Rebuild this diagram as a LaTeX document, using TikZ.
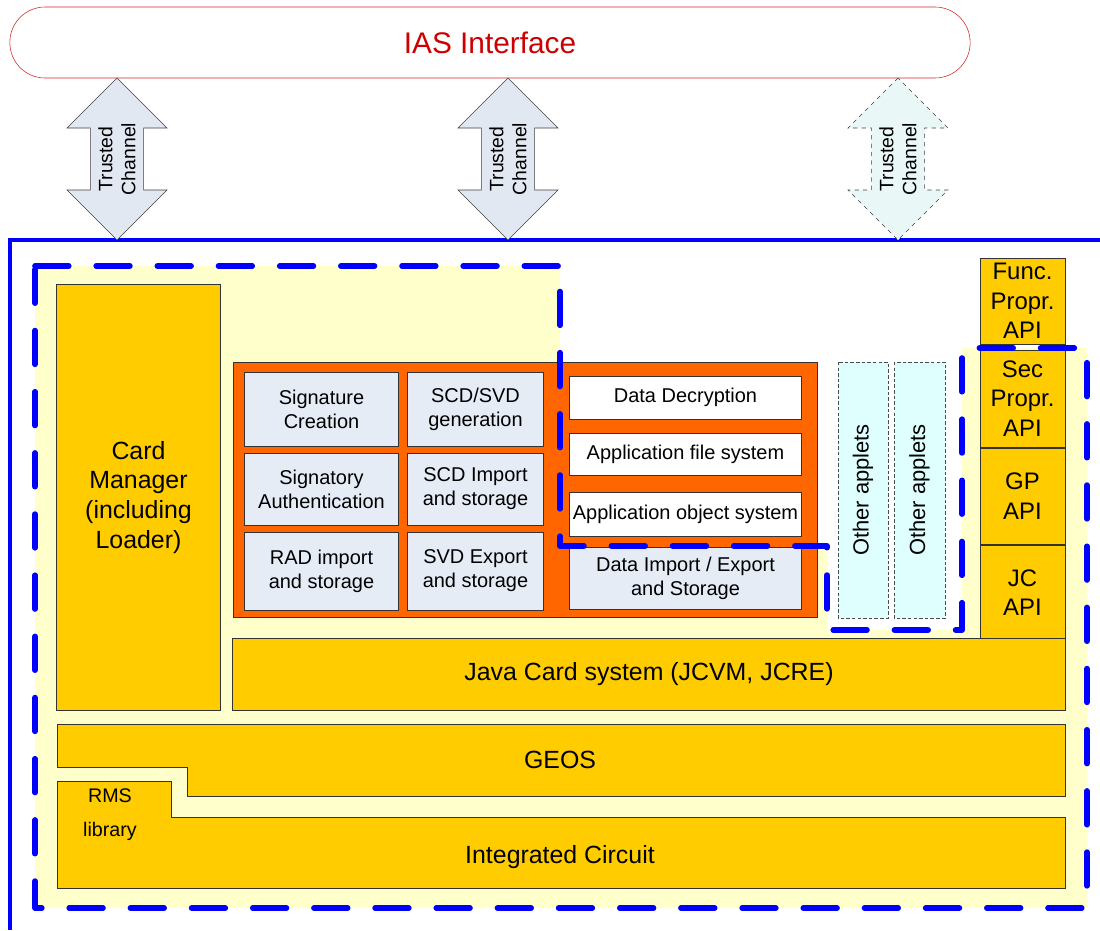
\documentclass[tikz,border=0pt]{standalone}
\usepackage{fontspec}
\setmainfont{Liberation Sans}
\usepackage{xcolor}
\usepackage{tikz}
\usetikzlibrary{positioning,shapes.arrows}

\definecolor{iasred}{HTML}{CC0000}
\definecolor{cardgold}{HTML}{FFCC00}
\definecolor{appletorange}{HTML}{FF6600}
\definecolor{cellblue}{HTML}{E6ECF6}
\definecolor{paleyellow}{HTML}{FFFFCC}
\definecolor{appletcyan}{HTML}{DFFFFF}
\definecolor{arrowblue}{HTML}{E2E8F2}
\definecolor{arrowcyan}{HTML}{EAF7F7}

\tikzset{
  goldbox/.style={draw=black!80, fill=cardgold, line width=0.7pt, inner sep=0pt, align=center,
    font=\fontsize{17.7}{21.3}\selectfont},
  apibox/.style={goldbox, minimum width=2.125cm, font=\fontsize{17}{21}\selectfont},
  cellbox/.style={draw=black!80, fill=cellblue, line width=0.7pt, inner sep=0pt, align=center,
    font=\fontsize{14.2}{17}\selectfont},
  appletbox/.style={draw=black!70, fill=appletcyan, dash pattern=on 2.5pt off 1.5pt, rotate=90,
    minimum width=6.4cm, inner sep=0pt, font=\fontsize{15.6}{18}\selectfont},
  tcarrow/.style={double arrow, draw=black!75, fill=arrowblue, rotate=90, minimum height=4.05cm,
    minimum width=2.5cm, double arrow head extend=0.54cm, inner xsep=0pt, inner ysep=4pt,
    align=center, font=\fontsize{13.8}{16.4}\selectfont},
  toeline/.style={draw=blue, line width=4pt, line cap=round, line join=round,
    dash pattern=on 24pt off 19.5pt}
}

\begin{document}
\begin{tikzpicture}[x=0.025cm, y=-0.025cm]
\useasboundingbox (0,0) rectangle (1100,930);

% platform frame and TOE area
\draw[blue, line width=2.4pt] (1100,240) -| (10,930);
\fill[paleyellow] (35,266) -- (560,266) -- (560,546) -- (827,546) -- (827,630) -- (962,630)
  -- (962,348) -- (1087,348) -- (1087,908) -- (35,908) -- cycle;

\node (ias) [draw=iasred!85, text=iasred, rounded corners=0.88cm, minimum width=24cm,
  minimum height=1.775cm, font=\fontsize{21.2}{24}\selectfont] at (490,42.5) {IAS Interface};

\node (tc1) [tcarrow] at (117,159) {Trusted\\Channel};
\node (tc2) [tcarrow] at (508,159) {Trusted\\Channel};
\node (tc3) [tcarrow, fill=arrowcyan, dashed] at (898,159) {Trusted\\Channel};

\node (cm) [goldbox, minimum width=4.075cm, minimum height=10.625cm] at (138.5,497.5)
  {Card\\Manager\\(including\\Loader)};

% signature application
\node (sig) [draw=black!80, fill=appletorange, line width=0.7pt, minimum width=14.575cm,
  minimum height=6.375cm] at (525.5,490) {};
\node (sc) [cellbox, minimum width=3.825cm, minimum height=1.85cm] at (321.5,409) {Signature\\Creation};
\node (gen) [cellbox, minimum width=3.375cm, minimum height=1.85cm] at (475.5,409) {SCD/SVD\\generation};
\node (sa) [cellbox, minimum width=3.825cm, minimum height=1.8cm] at (321.5,489) {Signatory\\Authentication};
\node (scdi) [cellbox, minimum width=3.375cm, minimum height=1.8cm] at (475.5,489) {SCD Import\\and storage};
\node (rad) [cellbox, minimum width=3.825cm, minimum height=1.95cm] at (321.5,571) {RAD import\\and storage};
\node (svde) [cellbox, minimum width=3.375cm, minimum height=1.95cm] at (475.5,571) {SVD Export\\and storage};
\node (dd) [cellbox, fill=white, minimum width=5.775cm, minimum height=1.075cm] at (685.5,397.5) {Data Decryption};
\node (afs) [cellbox, fill=white, minimum width=5.775cm, minimum height=1.05cm] at (685.5,454) {Application file system};
\node (aos) [cellbox, fill=white, minimum width=5.775cm, minimum height=1.1cm] at (685.5,514) {Application object system};
\node (die) [cellbox, minimum width=5.775cm, minimum height=1.55cm] at (685.5,578) {Data Import / Export\\and Storage};

\node (oa1) [appletbox, minimum height=1.25cm] at (863,490) {Other applets};
\node (oa2) [appletbox, minimum height=1.275cm] at (919.5,490) {Other applets};

% APIs
\node (func) [apibox, minimum height=2.15cm] at (1022.5,301) {Func.\\Propr.\\API};
\node (sec) [apibox, minimum height=2.425cm] at (1022.5,398.5) {Sec\\Propr.\\API};
\node (gp) [apibox, minimum height=2.4cm, below=0pt of sec] {GP\\API};
\node (jc) [apibox, minimum height=2.375cm, below=0pt of gp] {JC\\API};

\node (jcs) [goldbox, minimum width=20.8cm, minimum height=1.8cm] at (649,674)
  {Java Card system (JCVM, JCRE)};

% lower layers
\draw[goldbox] (57,724) -- (1065,724) -- (1065,796) -- (187,796) -- (187,767) -- (57,767) -- cycle;
\node (geos) [font=\fontsize{17.7}{21}\selectfont] at (560,760) {GEOS};
\draw[goldbox] (57,781) -- (171,781) -- (171,817) -- (1065,817) -- (1065,888) -- (57,888) -- cycle;
\node (rms) [align=center, font=\fontsize{14}{24}\selectfont] at (110,815) {RMS\\library};
\node (ic) [font=\fontsize{17.7}{21}\selectfont] at (560,857) {Integrated Circuit};

% TOE boundary
\draw[toeline] (35,266) -- (560,266) -- (560,546) -- (827,546) -- (827,630) -- (962,630)
  -- (962,348) -- (1087,348) -- (1087,908) -- (35,908) -- cycle;
\end{tikzpicture}
\end{document}
